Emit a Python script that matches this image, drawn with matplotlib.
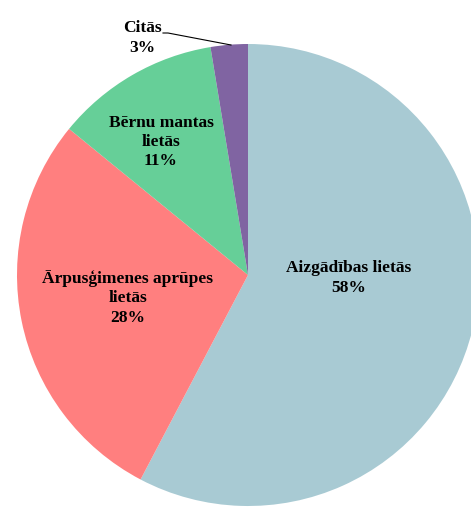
import matplotlib.pyplot as plt

# slice data, clockwise from the top
labels = ["Aizgādības lietās", "Ārpusģimenes aprūpes\nlietās", "Bērnu mantas\nlietās", "Citās"]
shares = [57.7, 28.2, 11.5, 2.6]
pct_text = ["58%", "28%", "11%", "3%"]
colors = ["#A8CAD3", "#FF7F7F", "#66CF98", "#8064A2"]

plt.rcParams["font.family"] = ["Liberation Serif", "DejaVu Serif"]

fig = plt.figure(figsize=(4.71, 5.07), dpi=100)
ax = fig.add_axes([0, 0, 1, 1])

ax.pie(shares, colors=colors, startangle=90, counterclock=False,
       center=(248, 232), radius=231, frame=True)
ax.set_xlim(0, 471)
ax.set_ylim(0, 507)
ax.set_aspect("equal")
ax.axis("off")

# label positions (pixel coords from top-left, converted)
pos = [(349, 278), (128, 298), (161, 142), (142, 38)]
for lab, p, (x, y) in zip(labels, pct_text, pos):
    ax.text(x, 507 - y, "{}\n{}".format(lab, p), ha="center", va="center",
            fontsize=12.5, fontweight="bold", linespacing=1.28)

# leader line for the small slice
ax.plot([163, 168, 231], [507 - 33, 507 - 33, 507 - 45], color="black", lw=0.8)

plt.savefig("out.png", dpi=100)
